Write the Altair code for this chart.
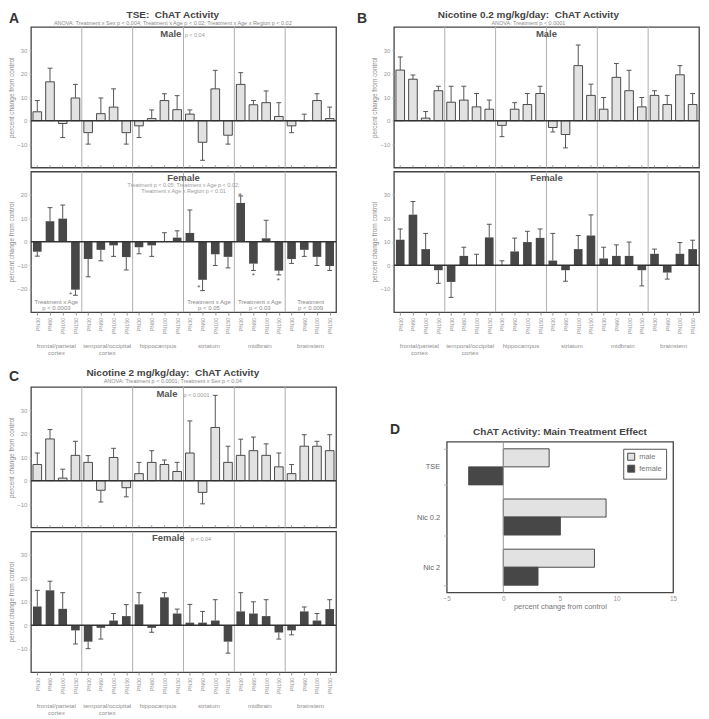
import altair as alt
import pandas as pd

# ---------------- data ----------------
regions = ["frontal/parietal\ncortex", "temporal/occipital\ncortex", "hippocampus",
           "striatum", "midbrain", "brainstem"]
ages = ["PN30", "PN60", "PN100", "PN150"]

tse_male = [3.8, 16.6, -1.2, 9.7, -5.1, 3.0, 5.8, -5.1, -2.2, 0.9, 8.6, 4.7,
            2.8, -9.2, 13.6, -6.2, 15.5, 6.8, 7.7, 1.8, -2.2, 0.0, 8.6, 0.9]
tse_male_err = [4.8, 5.8, 6.0, 5.8, 4.9, 6.7, 7.8, 4.9, 5.0, 3.7, 2.9, 6.0,
                1.8, 7.7, 7.9, 3.8, 5.0, 1.8, 5.0, 5.9, 2.9, 2.8, 2.9, 4.9]
tse_female = [-4.2, 8.8, 9.9, -20.4, -7.3, -3.4, -1.5, -6.5, -2.3, -1.5, 0.0, 1.8,
              3.8, -16.2, -5.3, -6.4, 16.6, -9.3, 1.5, -12.3, -7.3, -3.4, -6.4, -10.3]
tse_female_err = [1.9, 5.8, 5.8, 2.4, 7.6, 4.7, 4.7, 5.5, 2.8, 4.7, 3.9, 2.9,
                  9.8, 4.6, 4.8, 4.7, 3.0, 2.9, 7.7, 1.8, 1.9, 2.8, 3.7, 1.9]
nic02_male = [21.6, 17.7, 1.1, 12.8, 7.9, 8.8, 5.9, 4.9, -2.0, 4.9, 6.9, 11.6,
              -2.9, -5.9, 23.5, 10.8, 4.9, 18.5, 12.8, 5.9, 10.8, 6.9, 19.6, 6.9]
nic02_male_err = [5.6, 1.8, 2.8, 1.9, 6.8, 5.9, 5.7, 3.9, 4.8, 2.8, 4.7, 3.1,
                  1.9, 5.7, 8.8, 4.8, 5.0, 5.9, 8.7, 4.0, 2.0, 3.9, 3.9, 4.7]
nic02_female = [10.9, 21.6, 6.9, -2.1, -7.1, 4.0, 0.0, 11.9, 0.0, 5.9, 9.9, 11.7,
                2.0, -2.1, 6.9, 12.7, 2.9, 4.0, 4.0, -2.1, 4.9, -3.1, 4.9, 6.9]
nic02_female_err = [4.6, 5.6, 6.7, 5.6, 6.6, 3.7, 4.7, 5.6, 1.9, 5.7, 4.6, 3.8,
                    11.6, 4.7, 5.8, 8.8, 4.8, 4.7, 5.9, 6.7, 2.0, 2.8, 4.8, 3.8]
nic2_male = [6.9, 17.8, 1.1, 10.8, 7.8, -4.1, 9.9, -3.0, 3.0, 7.8, 6.9, 3.9,
             11.8, -5.0, 22.7, 7.8, 10.8, 12.8, 10.8, 5.9, 3.0, 14.7, 14.7, 12.8]
nic2_male_err = [4.9, 4.0, 3.8, 6.0, 2.9, 5.0, 3.9, 3.9, 4.8, 5.0, 1.9, 3.9,
                 13.7, 4.9, 13.7, 6.9, 6.9, 5.8, 4.9, 5.9, 3.9, 4.9, 2.1, 6.8]
nic2_female = [8.0, 14.9, 7.0, -2.2, -7.0, -1.1, 2.0, 3.9, 8.9, -1.1, 11.9, 5.0,
               1.1, 1.1, 2.0, -7.0, 5.9, 5.0, 3.9, -3.1, -2.2, 5.9, 2.0, 6.9]
nic2_female_err = [6.9, 3.9, 6.9, 5.8, 3.0, 4.8, 3.0, 4.9, 5.0, 1.9, 2.0, 1.9,
                   7.8, 4.8, 8.9, 4.9, 8.0, 5.0, 7.0, 2.8, 1.9, 1.9, 3.0, 4.0]

groups = ["TSE", "Nic 0.2", "Nic 2"]
main_male = [4.05, 9.08, 8.05]
main_female = [-3.07, 5.05, 3.07]

# ---------------- styling ----------------
FONT = "Liberation Sans"
W, H = 306, 141
MALE_FILL = "#e2e2e2"
FEMALE_FILL = "#474747"
TXT = "#4a4a4a"
LIGHT = "#999999"
YT = "percent change from control"
NB = "\u00a0"

sep_df = pd.DataFrame({"x": [3.5, 7.5, 11.5, 15.5, 19.5]})
region_df = pd.DataFrame({"x": [1.5, 5.5, 9.5, 13.5, 17.5, 21.5], "label": regions})
one = pd.DataFrame({"k": [0]})
age_expr = "[" + ",".join("'%s'" % a for a in ages) + "][datum.value % 4]"


def panel_frame(vals, errs):
    return pd.DataFrame({
        "i": list(range(24)),
        "region": [regions[k // 4].replace("\n", " ") for k in range(24)],
        "age": [ages[k % 4] for k in range(24)],
        "value": vals,
        "err": errs,
    })


def subplot(vals, errs, domain, yticks, female, texts, letter=None, bottom=False,
            stars=None):
    xs = alt.Scale(domain=[-0.5, 23.5], nice=False, zero=False)
    ys = alt.Scale(domain=domain, nice=False, zero=False)

    def X(field):
        return alt.X(field, scale=xs, axis=None)

    def Y(field):
        return alt.Y(field, scale=ys, axis=None)

    def text_layer(x, y, t, size, weight="normal", color=TXT, align="center",
                   baseline="alphabetic", line_height=6, dy=0):
        df = pd.DataFrame({"x": [x], "y": [y], "t": [t]})
        return alt.Chart(df).mark_text(
            font=FONT, fontSize=size, fontWeight=weight, color=color, align=align,
            baseline=baseline, lineBreak="\n", lineHeight=line_height, dy=dy
        ).encode(x=X("x:Q"), y=Y("y:Q"), text="t:N")

    df = panel_frame(vals, errs)
    base = alt.Chart(df).transform_calculate(
        lo="datum.i - 0.34", hi="datum.i + 0.34",
        clo="datum.i - 0.19", chi="datum.i + 0.19",
        end="datum.value >= 0 ? datum.value + datum.err : datum.value - datum.err",
        t0=str(domain[0]), t1=str(domain[0] + 1.0),
    )
    if bottom:
        xenc = alt.X("lo:Q", scale=xs, title=None,
                     axis=alt.Axis(values=list(range(24)), labelExpr=age_expr, labelAngle=270,
                                   labelFontSize=5.5, labelColor=LIGHT, tickSize=3,
                                   tickColor=LIGHT, domain=False, grid=False, labelPadding=2,
                                   labelFlush=False, labelOverlap=False))
    else:
        xenc = alt.X("lo:Q", scale=xs, axis=None)
    yaxis = alt.Axis(values=yticks, titleFontSize=6.5,
                     titleColor="#8a8a8a", titleFontWeight="normal", labelFontSize=6,
                     labelColor=LIGHT, tickSize=2, tickColor="#aaaaaa", domain=False,
                     grid=False, labelPadding=2, titlePadding=2, labelFlush=False,
                     labelOverlap=False)
    if female:
        bars = base.mark_bar(fill=FEMALE_FILL, strokeWidth=0)
    else:
        bars = base.mark_bar(fill=MALE_FILL, stroke="#222222", strokeWidth=0.8)
    bars = bars.encode(
        x=xenc,
        x2="hi:Q",
        y=alt.Y("value:Q", scale=ys, axis=yaxis, title=YT),
        y2=alt.datum(0),
        tooltip=["region:N", "age:N", "value:Q", "err:Q"],
    )
    err_line = base.mark_rule(color="#555555", strokeWidth=1).encode(
        x=X("i:Q"), y=Y("value:Q"), y2="end:Q")
    caps = base.mark_rule(color="#555555", strokeWidth=1).encode(
        x=X("clo:Q"), x2="chi:Q", y=Y("end:Q"))
    seps = alt.Chart(sep_df).transform_calculate(
        y0=str(domain[0]), y1=str(domain[1])
    ).mark_rule(color="#b0b0b0", strokeWidth=1).encode(
        x=X("x:Q"), y=Y("y0:Q"), y2="y1:Q")
    zero = alt.Chart(one).transform_calculate(a="-0.5", b="23.5", z="0").mark_rule(
        color="#333333", strokeWidth=1.5
    ).encode(x=X("a:Q"), x2="b:Q", y=Y("z:Q"))

    layers = [seps, bars, err_line, caps, zero]
    if not bottom:
        layers.append(base.mark_rule(color="#888888", strokeWidth=0.8).encode(
            x=X("i:Q"), y=Y("t0:Q"), y2="t1:Q"))
    for t in texts:
        layers.append(text_layer(*t[:4], **t[4]))
    if stars:
        for (sx, sy) in stars:
            layers.append(text_layer(sx, sy, "*", 8, color="#555555", dy=4))
    if bottom:
        layers.append(
            alt.Chart(region_df).mark_text(
                font=FONT, fontSize=6.2, color="#8f8f8f", baseline="top",
                lineBreak="\n", lineHeight=7
            ).encode(x=X("x:Q"), y=alt.value(H + 31), text="label:N")
        )
    if letter:
        layers.append(
            alt.Chart(one).mark_text(
                font=FONT, fontSize=14, fontWeight="bold", color="#333333",
                align="left", baseline="alphabetic"
            ).encode(x=alt.value(letter[1]), y=alt.value(letter[2]), text=alt.value(letter[0]))
        )
    return alt.layer(*layers).resolve_axis(x="independent", y="independent").properties(
        width=W, height=H)


def panel(title, subtitle, male, female):
    return alt.vconcat(male, female, spacing=0).properties(
        title=alt.TitleParams(
            text=title, subtitle=subtitle, font=FONT, subtitleFont=FONT,
            fontSize=10, fontWeight="bold", color="#444444",
            subtitleFontSize=5.5, subtitleColor="#8a8a8a", subtitlePadding=1,
            anchor="middle", offset=-15,
        )
    )


BIG = dict(weight="bold", color="#555555", align="center")
SMALL = dict(color="#9a9a9a", align="left")
NOTE = dict(color="#8a8a8a", align="center", baseline="middle", line_height=6)

male_ticks = [-10, 0, 10, 20, 30]

# Panel A
A_m = subplot(tse_male, tse_male_err, [-20, 40], male_ticks, False,
              [(10.5, 35.8, "Male", 9.5, BIG), (11.6, 35.8, "p < 0.04", 5.5, SMALL)],
              letter=("A", -22, -4))
A_f = subplot(tse_female, tse_female_err, [-30, 30], [-20, -10, 0, 10, 20], True,
              [(11.5, 26.0, "Female", 9.5, BIG),
               (11.5, 23.4, "Treatment p < 0.05; Treatment x Age p < 0.02;\nTreatment x Age x Region p < 0.01",
                5.5, dict(color="#9a9a9a", align="center", line_height=6)),
               (1.5, -25.8, "Treatment x Age\np < 0.0003", 6, NOTE),
               (13.5, -25.8, "Treatment x Age\np < 0.05", 6, NOTE),
               (17.5, -25.8, "Treatment x Age\np < 0.03", 6, NOTE),
               (21.5, -25.8, "Treatment\np < 0.009", 6, NOTE)],
              bottom=True,
              stars=[(2.62, -21.7), (12.7, -18.7), (15.95, 20.6), (17.0, -13.8), (18.95, -16.0)])
A = panel("TSE:" + NB + " ChAT Activity",
          "ANOVA: Treatment x Sex p < 0.004; Treatment x Age p < 0.02; Treatment x Age x Region p < 0.02",
          A_m, A_f)

# Panel B
B_m = subplot(nic02_male, nic02_male_err, [-20, 40], male_ticks, False,
              [(11.5, 35.8, "Male", 9.5, BIG)], letter=("B", -37, -4))
B_f = subplot(nic02_female, nic02_female_err, [-20, 40], male_ticks, True,
              [(11.5, 35.8, "Female", 9.5, BIG)], bottom=True)
B = panel("Nicotine 0.2 mg/kg/day:" + NB + " ChAT Activity", "ANOVA: Treatment p < 0.0001", B_m, B_f)

# Panel C
C_m = subplot(nic2_male, nic2_male_err, [-20, 40], male_ticks, False,
              [(10.2, 35.8, "Male", 9.5, BIG), (11.5, 35.8, "p < 0.0001", 5.5, SMALL)],
              letter=("C", -22, -6))
C_f = subplot(nic2_female, nic2_female_err, [-20, 40], male_ticks, True,
              [(10.3, 35.8, "Female", 9.5, BIG), (12.1, 35.8, "p < 0.04", 5.5, SMALL)],
              bottom=True)
C = panel("Nicotine 2 mg/kg/day:" + NB + " ChAT Activity",
          "ANOVA: Treatment p < 0.0001; Treatment x Sex p < 0.04", C_m, C_f)

# Panel D
d_df = pd.DataFrame({
    "group": groups * 2,
    "sex": ["male"] * 3 + ["female"] * 3,
    "value": main_male + main_female,
})
sex_dom = ["male", "female"]
dxs = alt.Scale(domain=[-5, 15], nice=False)
D_bars = alt.Chart(d_df).mark_bar(strokeWidth=0.8).encode(
    y=alt.Y("group:N", sort=groups,
            scale=alt.Scale(paddingInner=0.28, paddingOuter=0.14),
            axis=alt.Axis(title=None, tickBand="extent", labelFontSize=7.5,
                          labelColor="#666666", tickSize=3, tickColor="#aaaaaa",
                          domain=False, labelPadding=4)),
    yOffset=alt.YOffset("sex:N", sort=sex_dom, scale=alt.Scale(domain=sex_dom)),
    x=alt.X("value:Q", scale=dxs, title=YT,
            axis=alt.Axis(values=[-5, 0, 5, 10, 15],
                          grid=False, domain=False, tickSize=0, labelFontSize=6.5,
                          labelColor=LIGHT, titleFontSize=7.5, titleColor="#777777",
                          titleFontWeight="normal", titlePadding=1, labelPadding=3,
                          labelFlush=False, labelOverlap=False)),
    fill=alt.Fill("sex:N", scale=alt.Scale(domain=sex_dom, range=[MALE_FILL, FEMALE_FILL]),
                  legend=alt.Legend(title=None)),
    stroke=alt.Stroke("sex:N", scale=alt.Scale(domain=sex_dom, range=["#222222", FEMALE_FILL]),
                      legend=alt.Legend(title=None)),
)
D_zero = alt.Chart(one).transform_calculate(z="0").mark_rule(color="#999999", strokeWidth=1).encode(
    x=alt.X("z:Q", scale=dxs, axis=None)
)
D_letter = alt.Chart(one).mark_text(
    font=FONT, fontSize=14, fontWeight="bold", color="#333333", align="left", baseline="alphabetic"
).encode(x=alt.value(-57), y=alt.value(-8), text=alt.value("D"))
D_main = alt.layer(D_bars, D_zero, D_letter).resolve_axis(x="independent").properties(
    width=227, height=151,
    title=alt.TitleParams(
        text="ChAT Activity: Main Treatment Effect", font=FONT, fontSize=10,
        fontWeight="bold", color="#444444", anchor="middle", offset=-14,
    ),
)
spacer = alt.Chart(one).mark_point(opacity=0).encode(
    x=alt.value(0), y=alt.value(0)
).properties(width=10, height=34, view=alt.ViewBackground(stroke="transparent"))
D = alt.vconcat(spacer, D_main, spacing=0).resolve_scale(fill="independent", stroke="independent")

row1 = alt.hconcat(A, B, spacing=18)
row2 = alt.hconcat(C, D, spacing=51).resolve_scale(fill="independent", stroke="independent")
chart = alt.vconcat(row1, row2, spacing=10).resolve_scale(
    fill="independent", stroke="independent"
).properties(padding=0).configure(
    font=FONT
).configure_view(
    stroke="#444444", strokeWidth=1.3
).configure_legend(
    orient="top-right", offset=7, fillColor="white", strokeColor="#555555",
    padding=4, labelFontSize=7.5, labelColor="#777777", symbolType="square",
    symbolSize=50, rowPadding=0, labelFont=FONT, symbolStrokeWidth=0.8,
)

chart.save("out.html", embed_options={"renderer": "svg", "actions": False})
